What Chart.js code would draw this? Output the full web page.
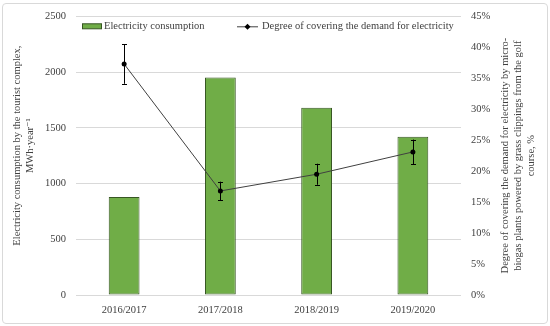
<!DOCTYPE html>
<html>
<head>
<meta charset="utf-8">
<script src="https://cdn.jsdelivr.net/npm/chart.js@4/dist/chart.umd.min.js"></script>
<style>
html,body{margin:0;padding:0;background:#fff;}
#wrap{position:relative;width:550px;height:326px;}
#frame{position:absolute;left:2px;top:3px;width:544px;height:319px;border:1px solid #d9d9d9;border-radius:4px;pointer-events:none;}
canvas{display:block;}
</style>
</head>
<body>
<div id="wrap"><canvas id="c" width="550" height="326"></canvas><div id="frame"></div></div>
<script>
const categories = ["2016/2017", "2017/2018", "2018/2019", "2019/2020"];
const consumption = [880, 1950, 1680, 1420];
const coverage = [37.3, 16.8, 19.5, 23.1];
const coverageError = [3.2, 1.5, 1.7, 2.0];
const leftTitle = ["Electricity consumption by the tourist complex,", "MWh·year\u207B\u00B9"];
const rightTitle = ["Degree of covering the demand for electricity by micro-", "biogas plants powered by grass clippings from the golf", "course, %"];
const legendLabels = ["Electricity consumption", "Degree of covering the demand for electricity"];

const FONT = "'Liberation Serif', 'DejaVu Serif', serif";
const TXT = "#404040";

const extras = {
  id: 'extras',
  afterDatasetsDraw(chart) {
    const ctx = chart.ctx;
    const x = chart.scales.x, y2 = chart.scales.y2;
    ctx.save();
    ctx.strokeStyle = '#000';
    ctx.lineWidth = 1;
    coverage.forEach((v, i) => {
      const px = Math.round(x.getPixelForValue(i)) + 0.5;
      const top = y2.getPixelForValue(v + coverageError[i]);
      const bot = y2.getPixelForValue(v - coverageError[i]);
      ctx.beginPath();
      ctx.moveTo(px, top); ctx.lineTo(px, bot);
      ctx.moveTo(px - 2.5, Math.round(top) + 0.5); ctx.lineTo(px + 2.5, Math.round(top) + 0.5);
      ctx.moveTo(px - 2.5, Math.round(bot) + 0.5); ctx.lineTo(px + 2.5, Math.round(bot) + 0.5);
      ctx.stroke();
    });
    ctx.restore();
  },
  afterDraw(chart) {
    const ctx = chart.ctx;
    const ca = chart.chartArea;
    ctx.save();
    ctx.font = "10.5px " + FONT;
    ctx.fillStyle = TXT;
    ctx.textBaseline = 'middle';
    // legend
    const ly = ca.top + 10;
    let lx = ca.left + 6;
    ctx.fillStyle = '#70ad47';
    ctx.fillRect(lx, ly - 2.5, 20, 5);
    ctx.strokeStyle = '#375623';
    ctx.lineWidth = 1;
    ctx.strokeRect(lx + 0.5, ly - 2.5, 19, 5);
    ctx.fillStyle = TXT;
    ctx.textAlign = 'left';
    ctx.fillText(legendLabels[0], lx + 22, ly);
    lx = ca.left + 161;
    ctx.strokeStyle = '#404040';
    ctx.beginPath(); ctx.moveTo(lx, ly + 0.5); ctx.lineTo(lx + 21, ly + 0.5); ctx.stroke();
    ctx.fillStyle = '#000';
    ctx.beginPath();
    ctx.moveTo(lx + 10.5, ly - 2.5); ctx.lineTo(lx + 13.5, ly + 0.5); ctx.lineTo(lx + 10.5, ly + 3.5); ctx.lineTo(lx + 7.5, ly + 0.5);
    ctx.closePath(); ctx.fill();
    ctx.fillStyle = TXT;
    ctx.fillText(legendLabels[1], lx + 25, ly);
    // axis titles
    const cy = (ca.top + ca.bottom) / 2;
    ctx.textAlign = 'center';
    ctx.save();
    ctx.translate(17, cy - 10);
    ctx.rotate(-Math.PI / 2);
    ctx.fillText(leftTitle[0], 0, 0);
    ctx.fillText(leftTitle[1], 0, 13);
    ctx.restore();
    ctx.save();
    ctx.translate(505, cy);
    ctx.rotate(-Math.PI / 2);
    rightTitle.forEach((t, i) => ctx.fillText(t, 0, i * 13));
    ctx.restore();
    ctx.restore();
  }
};

new Chart(document.getElementById('c'), {
  type: 'bar',
  data: {
    labels: categories,
    datasets: [
      {
        type: 'line',
        label: legendLabels[1],
        data: coverage,
        yAxisID: 'y2',
        borderColor: '#404040',
        borderWidth: 1,
        pointRadius: 2.5,
        pointBackgroundColor: '#000',
        pointBorderColor: '#000',
        pointBorderWidth: 0,
        tension: 0,
        order: 0
      },
      {
        type: 'bar',
        label: legendLabels[0],
        data: consumption,
        yAxisID: 'y',
        backgroundColor: '#70ad47',
        borderColor: '#375623',
        borderWidth: 1,
        borderSkipped: false,
        categoryPercentage: 1,
        barPercentage: 0.32,
        order: 1
      }
    ]
  },
  options: {
    responsive: false,
    animation: false,
    devicePixelRatio: 1,
    layout: { padding: { top: 14, left: 0, right: 0, bottom: 0 } },
    plugins: { legend: { display: false }, tooltip: { enabled: false } },
    scales: {
      x: {
        grid: { display: false, drawTicks: false },
        border: { display: false },
        ticks: { color: TXT, font: { family: FONT, size: 10.5 }, padding: 9 },
        afterFit(s) { s.height = 31; }
      },
      y: {
        position: 'left',
        min: 0, max: 2500,
        ticks: { stepSize: 500, color: TXT, font: { family: FONT, size: 10.5 }, padding: 10, callback: v => String(v) },
        grid: { color: '#d9d9d9', drawTicks: false },
        border: { display: false },
        afterFit(s) { s.width = 76; }
      },
      y2: {
        position: 'right',
        min: 0, max: 45,
        ticks: { stepSize: 5, color: TXT, font: { family: FONT, size: 10.5 }, padding: 10, callback: v => v + '%' },
        grid: { display: false, drawTicks: false },
        border: { display: false },
        afterFit(s) { s.width = 89; }
      }
    }
  },
  plugins: [extras]
});
</script>
</body>
</html>
